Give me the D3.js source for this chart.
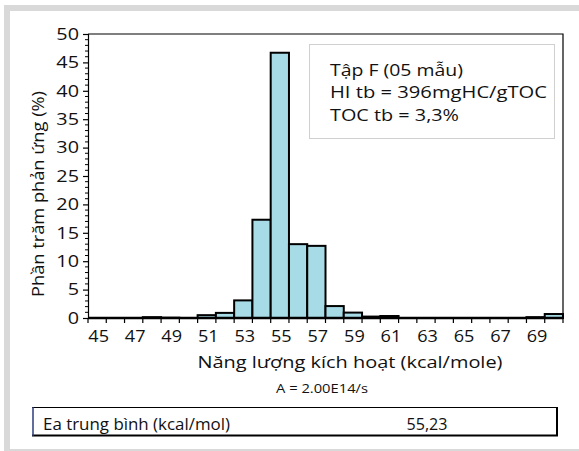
<!DOCTYPE html>
<html><head><meta charset="utf-8">
<script src="https://cdn.jsdelivr.net/npm/d3@7"></script>
<style>body{margin:0;background:#fff}svg{display:block}text{font-family:"Open Sans",sans-serif;fill:#111}</style>
</head><body><svg id="c" width="579" height="451"></svg>
<script>
const bins = [45,46,47,48,49,50,51,52,53,54,55,56,57,58,59,60,61,62,63,64,65,66,67,68,69,70];
const values = [0,0,0,0.15,0.05,0,0.5,0.9,3.1,17.3,46.7,13.0,12.7,2.1,0.95,0.25,0.35,0,0,0,0,0,0,0,0.15,0.7];
const xTickLabels = [45,47,49,51,53,55,57,59,61,63,65,67,69];
const yTicks = [0,5,10,15,20,25,30,35,40,45,50];
const yTitle = "Phần trăm phản ứng (%)";
const xTitle = "Năng lượng kích hoạt (kcal/mole)";
const xSub = "A = 2.00E14/s";
const legendLines = ["Tập F (05 mẫu)", "HI tb = 396mgHC/gTOC", "TOC tb = 3,3%"];
const tableLabel = "Ea trung bình (kcal/mol)";
const tableValue = "55,23";

function stretch(sel, k){
  sel.each(function(){
    const w = this.getComputedTextLength();
    d3.select(this).attr("textLength", w*k).attr("lengthAdjust","spacingAndGlyphs");
  });
}

const svg = d3.select("#c");
svg.append("rect").attr("x",4).attr("y",5).attr("width",600).attr("height",460).attr("fill","#d9d9d9");
svg.append("rect").attr("x",10).attr("y",11).attr("width",600).attr("height",438).attr("fill","#fff");

const L=88, R=563, T=34, B=318;
const x = d3.scaleBand().domain(bins).range([L,R]).paddingInner(0).paddingOuter(0);
const y = d3.scaleLinear().domain([0,50]).range([B,T]);

// frame top/right
svg.append("path").attr("d",`M${L},${T}H${R}V${B}`).attr("fill","none").attr("stroke","#000").attr("stroke-width",1.2);

// y axis
const ya = svg.append("g").attr("transform",`translate(${L},0)`)
  .call(d3.axisLeft(y).tickValues(yTicks).tickSize(5).tickPadding(4));
ya.select(".domain").attr("stroke-width",1.2);
ya.selectAll("text").style("font-size","16.5px").attr("fill","#111").call(stretch,1.2);
ya.selectAll(".tick line").attr("stroke-width",1.2);
const minor = d3.range(0,51).filter(v=>v%5!==0);
svg.append("g").selectAll("line").data(minor).join("line")
  .attr("x1",L-3).attr("x2",L).attr("y1",d=>y(d)).attr("y2",d=>y(d)).attr("stroke","#000").attr("stroke-width",1);

// bars
svg.append("g").selectAll("rect").data(bins).join("rect")
  .attr("x",(d)=>x(d)).attr("width",x.bandwidth())
  .attr("y",(d,i)=>y(values[i])).attr("height",(d,i)=>B-y(values[i]))
  .attr("fill","#a7dce7").attr("stroke","#000").attr("stroke-width",2);

// x axis ticks at bin boundaries
const bounds = bins.map(b=>x(b)).concat([R]);
svg.append("g").selectAll("line").data(bounds).join("line")
  .attr("x1",d=>d).attr("x2",d=>d).attr("y1",B).attr("y2",B+5).attr("stroke","#000").attr("stroke-width",1.2);
svg.append("line").attr("x1",L).attr("x2",R).attr("y1",B).attr("y2",B).attr("stroke","#000").attr("stroke-width",2.5);
svg.append("g").selectAll("text").data(xTickLabels).join("text")
  .attr("x",d=>x(d)+x.bandwidth()/2+1.5).attr("y",342).attr("text-anchor","middle")
  .style("font-size","16px").text(d=>d).call(stretch,1.13);

// titles
svg.append("text").attr("transform",`translate(44,194) rotate(-90)`).attr("text-anchor","middle")
  .style("font-size","16.5px").text(yTitle).attr("textLength",206).attr("lengthAdjust","spacingAndGlyphs");
svg.append("text").attr("x",350).attr("y",368).attr("text-anchor","middle").style("font-size","17px")
  .text(xTitle).attr("textLength",305).attr("lengthAdjust","spacingAndGlyphs");
svg.append("text").attr("x",322).attr("y",393).attr("text-anchor","middle").style("font-size","12px")
  .text(xSub).attr("textLength",92).attr("lengthAdjust","spacingAndGlyphs");

// legend box
svg.append("rect").attr("x",309.5).attr("y",44.5).attr("width",245).attr("height",94).attr("fill","#fff").attr("stroke","#d0d0d0").attr("stroke-width",1);
const legW = [133, 217, 129];
svg.append("g").selectAll("text").data(legendLines).join("text")
  .attr("x",330).attr("y",(d,i)=>76+i*22.3).style("font-size","16.3px").text(d=>d)
  .attr("textLength",(d,i)=>legW[i]).attr("lengthAdjust","spacingAndGlyphs");

// table
svg.append("rect").attr("x",32).attr("y",407).attr("width",524).attr("height",29).attr("fill","#fff");
svg.append("path").attr("d","M32,407.5H556").attr("stroke","#000").attr("stroke-width",1);
svg.append("path").attr("d","M32,435.5H557V407").attr("fill","none").attr("stroke","#000").attr("stroke-width",2);
svg.append("path").attr("d","M33,407V436").attr("stroke","#2c3e7a").attr("stroke-width",1.5);
svg.append("text").attr("x",43).attr("y",430).style("font-size","16.5px").text(tableLabel)
  .attr("textLength",187).attr("lengthAdjust","spacingAndGlyphs");
svg.append("text").attr("x",427).attr("y",430).attr("text-anchor","middle").style("font-size","16.5px").text(tableValue)
  .attr("textLength",41).attr("lengthAdjust","spacingAndGlyphs");
</script></body></html>
